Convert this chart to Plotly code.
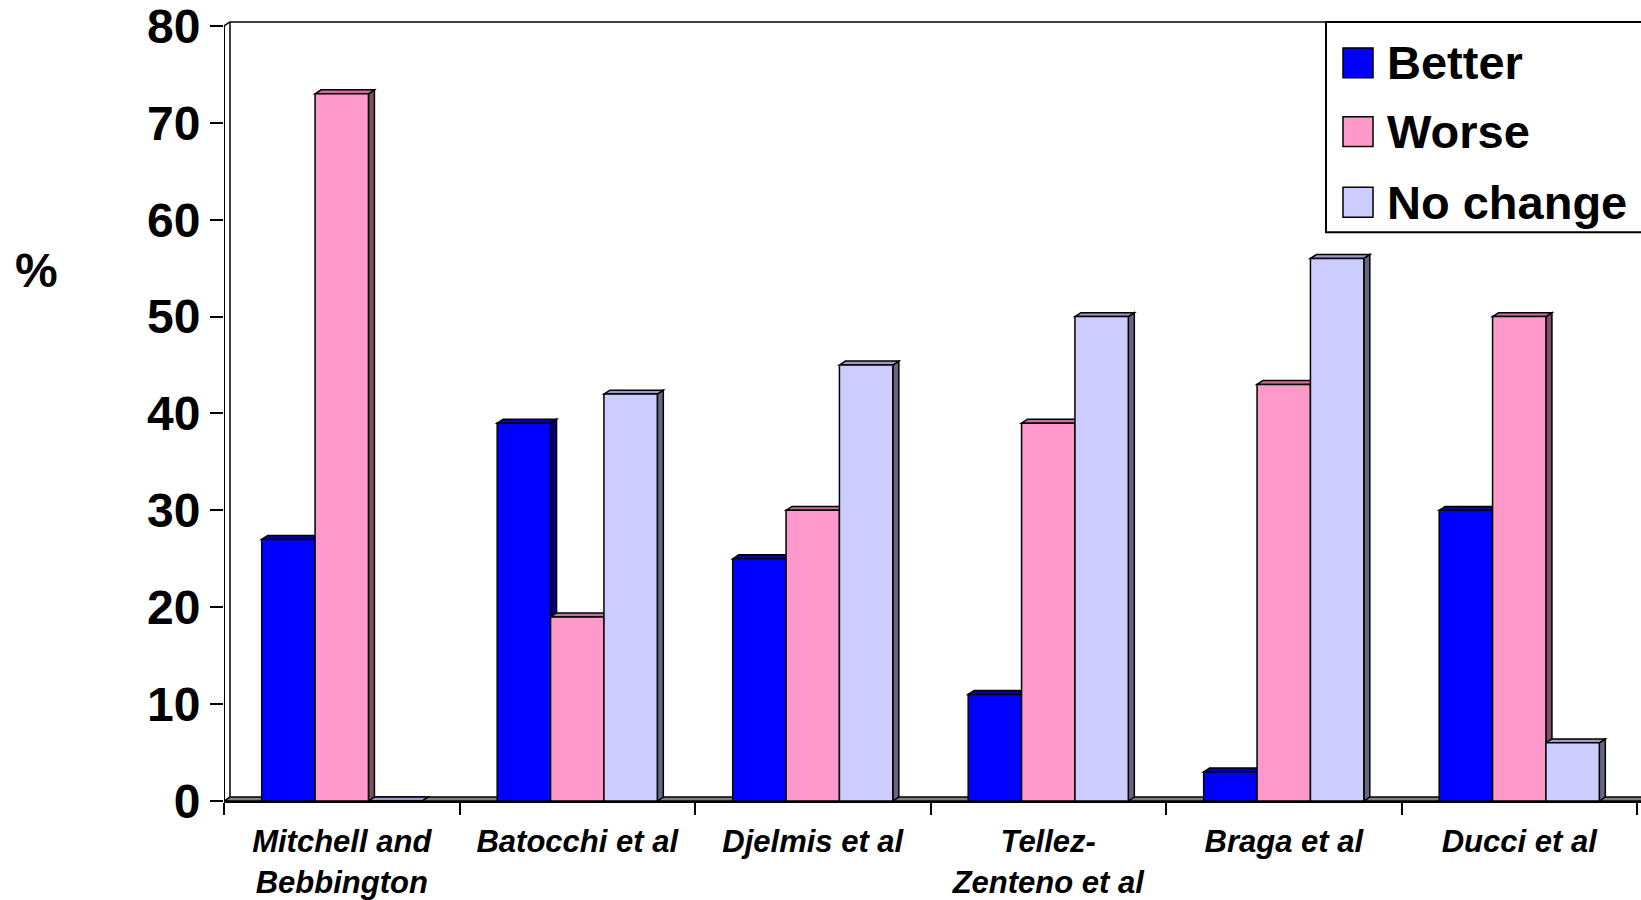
import plotly.graph_objects as go

# ---- data -------------------------------------------------------------
studies = ["Mitchell and<br>Bebbington", "Batocchi et al", "Djelmis et al",
           "Tellez-<br>Zenteno et al", "Braga et al", "Ducci et al"]
better = [27, 39, 25, 11, 3, 30]
worse = [73, 19, 30, 39, 43, 50]
no_change = [0, 42, 45, 50, 56, 6]
series_names = ["Better", "Worse", "No change"]
y_ticks = [0, 10, 20, 30, 40, 50, 60, 70, 80]

# ---- styling ----------------------------------------------------------
FONT = "Liberation Sans, Arial, sans-serif"
front_cols = ["#0000FF", "#FF99CC", "#CCCCFF"]
top_cols = ["#0000B8", "#CC6E9E", "#9A9ACC"]
side_cols = ["#000080", "#804D66", "#666680"]

W, H = 1641, 900
L, R, T, B = 224, 0, 19, 97
PW, PH = W - L - R, H - T - B
PX_PER_CAT = 235.5
PX_PER_UNIT = 9.725
xmin = -0.5
xmax = xmin + PW / PX_PER_CAT
ymax = PH / PX_PER_UNIT
# depth of the pseudo-3D extrusion, in data units
DX = 6 / PX_PER_CAT
DY = 4 / PX_PER_UNIT

GAP = 0.32
BW = (1 - GAP) / 3


def px_x(p):
    return (p - L) / PW


def px_y(p):
    return (H - B - p) / PH


fig = go.Figure()
all_vals = [better, worse, no_change]
for j, (name, vals) in enumerate(zip(series_names, all_vals)):
    fig.add_trace(go.Bar(
        x=list(range(len(studies))), y=vals, name=name,
        width=BW, offset=-(1 - GAP) / 2 + j * BW,
        marker=dict(color=front_cols[j], line=dict(color="black", width=1.5)),
        showlegend=False,
    ))

shapes = []
line_k = dict(color="black", width=1.5)
# floor strip
shapes.append(dict(type="path", xref="x", yref="y", layer="below",
                   path=f"M {xmin},0 L {xmax + 1},0 L {xmax + 1 + DX},{DY} L {xmin + DX},{DY} Z",
                   fillcolor="#808080", line=line_k))
# back wall edges
shapes.append(dict(type="line", xref="x", yref="y", layer="below",
                   x0=xmin + DX, x1=xmin + DX, y0=DY, y1=80 + DY, line=line_k))
shapes.append(dict(type="line", xref="x", yref="y", layer="below",
                   x0=xmin + DX, x1=xmax + 1, y0=80 + DY, y1=80 + DY, line=line_k))
shapes.append(dict(type="line", xref="x", yref="y", layer="above",
                   x0=xmin, x1=xmin + DX, y0=80, y1=80 + DY, line=line_k))
# value axis line
shapes.append(dict(type="line", xref="x", yref="y", layer="above",
                   x0=xmin, x1=xmin, y0=0, y1=80, line=dict(color="black", width=2)))

# top and side faces of every bar
for i in range(len(studies)):
    for j, vals in enumerate(all_vals):
        v = vals[i]
        x0 = i - (1 - GAP) / 2 + j * BW
        x1 = x0 + BW
        shapes.append(dict(type="path", xref="x", yref="y", layer="below",
                           path=f"M {x1},0 L {x1 + DX},{DY} L {x1 + DX},{v + DY} L {x1},{v} Z",
                           fillcolor=side_cols[j], line=line_k))
        shapes.append(dict(type="path", xref="x", yref="y", layer="below",
                           path=f"M {x0},{v} L {x0 + DX},{v + DY} L {x1 + DX},{v + DY} L {x1},{v} Z",
                           fillcolor=top_cols[j], line=line_k))

# legend box
shapes.append(dict(type="rect", xref="paper", yref="paper", layer="above",
                   x0=px_x(1326), x1=px_x(1660), y0=px_y(232), y1=px_y(21),
                   fillcolor="white", line=dict(color="black", width=2)))
annotations = []
legend_rows = [62, 131, 202]
for j, name in enumerate(series_names):
    yc = legend_rows[j]
    shapes.append(dict(type="rect", xref="paper", yref="paper", layer="above",
                       x0=px_x(1343), x1=px_x(1373), y0=px_y(yc + 15), y1=px_y(yc - 15),
                       fillcolor=front_cols[j], line=dict(color="black", width=1.5)))
    annotations.append(dict(xref="paper", yref="paper", x=px_x(1385), y=px_y(yc),
                            xanchor="left", yanchor="middle", showarrow=False,
                            text=name, font=dict(family=FONT, size=47, color="black",
                                                 weight="bold")))

annotations.append(dict(xref="paper", yref="paper", x=px_x(36), y=px_y(270),
                        xanchor="center", yanchor="middle", showarrow=False,
                        text="%", font=dict(family=FONT, size=48, color="black",
                                            weight="bold")))

# category boundaries carry the visible tick marks
boundaries = [k - 0.5 for k in range(len(studies) + 1)]

fig.update_layout(
    width=W, height=H,
    margin=dict(l=L, r=R, t=T, b=B),
    paper_bgcolor="white", plot_bgcolor="white",
    barmode="overlay",
    shapes=shapes, annotations=annotations,
    xaxis=dict(range=[xmin, xmax], tickmode="array",
               tickvals=list(range(len(studies))), ticktext=studies,
               ticks="outside", ticklen=12, tickwidth=1.5,
               tickcolor="rgba(0,0,0,0)",
               minor=dict(tickmode="array", tickvals=boundaries, ticks="outside",
                          ticklen=12, tickwidth=1.5, tickcolor="black",
                          showgrid=False),
               showline=True, linecolor="black", linewidth=2,
               showgrid=False, zeroline=False,
               tickfont=dict(family=FONT, size=31, color="black", weight="bold",
                             style="italic")),
    yaxis=dict(range=[0, ymax], tickmode="array", tickvals=y_ticks,
               ticks="outside", ticklen=13, tickwidth=2, tickcolor="black",
               ticklabeloverflow="allow",
               showline=False, showgrid=False, zeroline=False,
               tickfont=dict(family=FONT, size=48, color="black", weight="bold")),
)

fig.write_html("out.html")
